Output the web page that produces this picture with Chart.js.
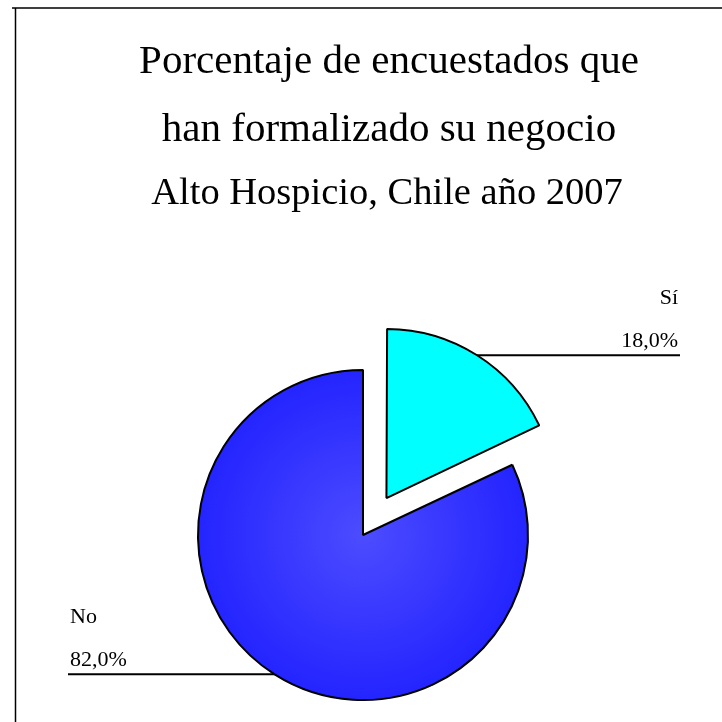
<!DOCTYPE html>
<html>
<head>
<meta charset="utf-8">
<script src="https://cdn.jsdelivr.net/npm/chart.js@4"></script>
<style>
html,body{margin:0;padding:0;background:#fff;}
#wrap{width:722px;height:722px;position:relative;}
</style>
</head>
<body>
<div id="wrap"><canvas id="c" width="722" height="722"></canvas></div>
<script>
const categories = ['Sí', 'No'];
const values = [18.0, 82.0];
const titleLines = ['Porcentaje de encuestados que', 'han formalizado su negocio'];
const subtitleText = 'Alto Hospicio, Chile año 2007';

const fmt = v => v.toFixed(1).replace('.', ',') + '%';
const SERIF = '"Liberation Serif", "Times New Roman", serif';

const decor = {
  id: 'decor',
  afterDraw(chart) {
    const ctx = chart.ctx;
    ctx.save();
    // frame
    ctx.strokeStyle = '#000';
    ctx.lineWidth = 1.5;
    ctx.beginPath();
    ctx.moveTo(12, 8); ctx.lineTo(722, 8);
    ctx.moveTo(15.5, 8); ctx.lineTo(15.5, 722);
    ctx.stroke();
    // titles
    ctx.fillStyle = '#000';
    ctx.textAlign = 'center';
    ctx.textBaseline = 'alphabetic';
    ctx.font = '41px ' + SERIF;
    ctx.fillText(titleLines[0], 389, 73);
    ctx.fillText(titleLines[1], 389, 141);
    ctx.font = '38.5px ' + SERIF;
    ctx.fillText(subtitleText, 387, 204);
    // leader lines + labels
    const meta = chart.getDatasetMeta(0);
    ctx.font = '22px ' + SERIF;
    meta.data.forEach((arc, i) => {
      const p = arc.getProps(['x','y','startAngle','endAngle','outerRadius','circumference'], true);
      const mid = (p.startAngle + p.endAngle) / 2;
      const base = (arc.options.offset || 0) / 4;
      const fix = 1 - Math.sin(Math.min(Math.PI, p.circumference || 0));
      const off = base + base * fix;
      const cx = p.x + Math.cos(mid) * off;
      const cy = p.y + Math.sin(mid) * off;
      const r = p.outerRadius;
      const px = cx + Math.cos(mid) * r;
      const py = cy + Math.sin(mid) * r;
      const right = Math.cos(mid) >= 0;
      const ex = right ? 680 : 68;
      ctx.lineWidth = 2;
      ctx.beginPath();
      ctx.moveTo(px, py); ctx.lineTo(ex, py);
      ctx.stroke();
      ctx.textAlign = right ? 'right' : 'left';
      const tx = right ? 678 : 70;
      ctx.fillText(fmt(values[i]), tx, py - 8);
      ctx.fillText(categories[i], tx, py - 51);
    });
    ctx.restore();
  }
};

function fillFor(context) {
  const chart = context.chart;
  if (context.dataIndex === 0) return '#00ffff';
  const a = chart.chartArea;
  if (!a) return '#2b2bff';
  const cx = (a.left + a.right) / 2, cy = (a.top + a.bottom) / 2;
  const g = chart.ctx.createRadialGradient(cx, cy, 0, cx, cy, 165);
  g.addColorStop(0, '#4c4cff');
  g.addColorStop(1, '#2424ff');
  return g;
}

new Chart(document.getElementById('c'), {
  type: 'pie',
  data: {
    labels: categories,
    datasets: [{
      data: values,
      backgroundColor: fillFor,
      borderColor: '#000',
      borderWidth: 2,
      offset: [175, 0]
    }]
  },
  options: {
    responsive: false,
    animation: false,
    radius: 165,
    layout: { padding: { top: 370, bottom: 22, left: 198, right: 194 } },
    plugins: {
      legend: { display: false },
      title: { display: false },
      tooltip: { enabled: false }
    },
    events: []
  },
  plugins: [decor]
});
</script>
</body>
</html>
